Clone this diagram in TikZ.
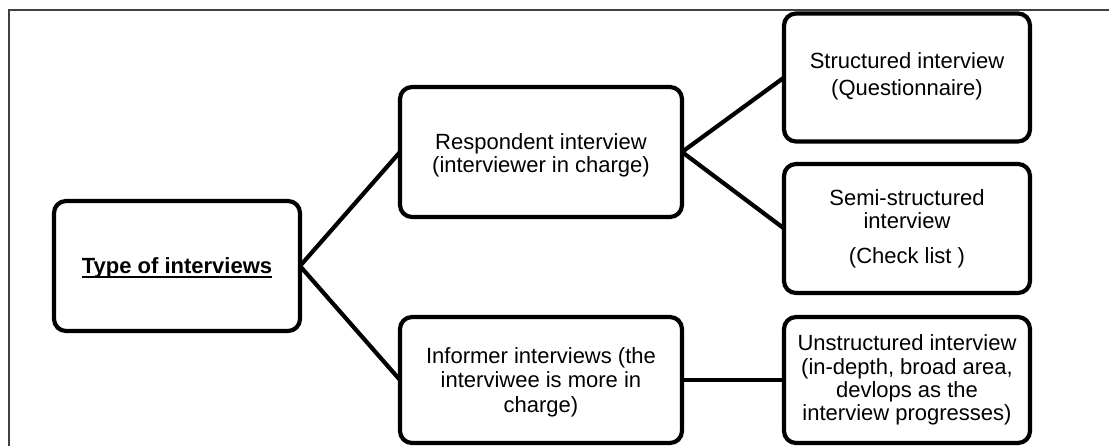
\documentclass[tikz,border=0pt]{standalone}
\usepackage{fontspec}
\setmainfont{Liberation Sans}
\newcommand{\lowered}[2]{\raisebox{-#1}[\height][\depth]{\begin{tabular}{@{}c@{}}#2\end{tabular}}}
\newcommand{\thickul}[1]{\setbox0\hbox{#1}\rlap{\rule[-4.5pt]{\wd0}{2.4pt}}\box0}
\begin{document}
\begin{tikzpicture}[x=1pt,y=-1pt,
  box/.style={draw=black, line width=4.2pt, rounded corners=12pt, inner sep=0pt, outer sep=0pt,
    align=center, font=\fontsize{22}{24}\selectfont},
  link/.style={draw=black, line width=4.2pt},
  frame/.style={draw=black!75, line width=1.5pt}]
\useasboundingbox (0,0) rectangle (1109,445);
\draw[frame] (1109,10) -- (9,10) -- (9,446);
\node[box, minimum width=246pt, minimum height=130pt] (A) at (177,266)
  {\lowered{3pt}{\thickul{\textbf{Type of interviews}}}};
\node[box, minimum width=282pt, minimum height=130pt, font=\fontsize{22}{23}\selectfont] (B) at (541,152)
  {\lowered{4pt}{Respondent interview\\(interviewer in charge)}};
\node[box, minimum width=282pt, minimum height=126pt, font=\fontsize{22}{24.5}\selectfont] (C) at (541,380)
  {\lowered{3pt}{Informer interviews (the\\interviwee is more in\\charge)}};
\node[box, minimum width=246pt, minimum height=128pt, font=\fontsize{22}{27}\selectfont] (D) at (907,77.5)
  {\lowered{-1pt}{Structured interview\\(Questionnaire)}};
\node[box, minimum width=246pt, minimum height=129pt, font=\fontsize{22}{23}\selectfont] (E) at (907,228.5)
  {Semi-structured\\interview\\[12pt](Check list )};
\node[box, minimum width=246pt, minimum height=126pt, font=\fontsize{22}{23.3}\selectfont] (F) at (907,380)
  {Unstructured interview\\(in-depth, broad area,\\devlops as the\\interview progresses)};
\draw[link] (A.east) -- (B.west);
\draw[link] (A.east) -- (C.west);
\draw[link] (B.east) -- (D.west);
\draw[link] (B.east) -- (E.west);
\draw[link] (C.east) -- (F.west);
\end{tikzpicture}
\end{document}
